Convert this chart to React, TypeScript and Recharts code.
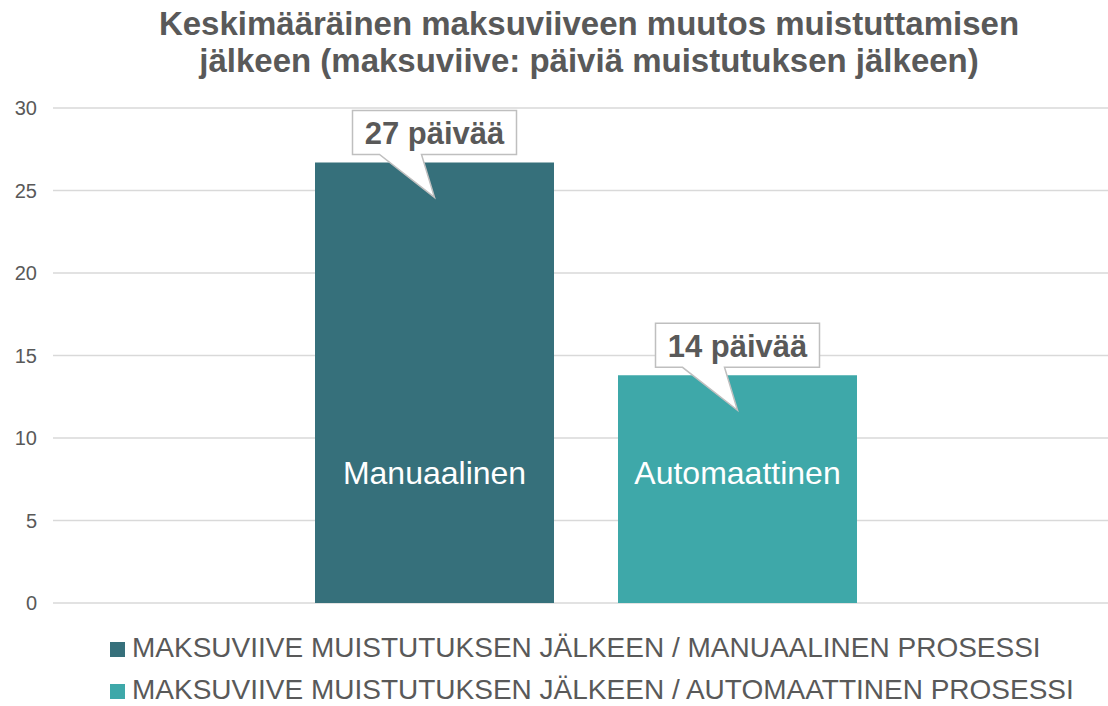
import React from "react";
import { BarChart, Bar, XAxis, YAxis, CartesianGrid, LabelList, Legend } from "recharts";

const titleLines = [
  "Keskimääräinen maksuviiveen muutos muistuttamisen",
  "jälkeen (maksuviive: päiviä muistutuksen jälkeen)",
];
const seriesKeys = ["manual", "auto"];
const barNames = ["Manuaalinen", "Automaattinen"];
const barValues = [26.7, 13.8];
const calloutTexts = ["27 päivää", "14 päivää"];
const legendLabels = [
  "MAKSUVIIVE MUISTUTUKSEN JÄLKEEN / MANUAALINEN PROSESSI",
  "MAKSUVIIVE MUISTUTUKSEN JÄLKEEN / AUTOMAATTINEN PROSESSI",
];
const barColors = ["#36707b", "#3ea8a9"];
const yTicks = [0, 5, 10, 15, 20, 25, 30];

const chartData = [
  seriesKeys.reduce((row: any, key, i) => {
    row[key] = barValues[i];
    return row;
  }, { category: "" }),
];

const FONT = "'Liberation Sans', Arial, sans-serif";
const GRAY = "#595959";

// callout above the bar + series name inside it
function makeLabel(i: number) {
  return (props: any) => {
    const x = Number(props.x);
    const y = Number(props.y);
    const w = Number(props.width);
    const h = Number(props.height);
    const cx = x + w / 2;
    const bottom = y + h;
    const top = y - 52;
    const base = y - 8;
    const d = `M${cx - 82},${top} H${cx + 82} V${base} H${cx - 13} L${cx},${y + 35} L${cx - 55},${base} H${cx - 82} Z`;
    return (
      <g>
        <text x={cx} y={bottom - 119} textAnchor="middle" fill="#ffffff" fontSize={32} fontFamily={FONT}>
          {barNames[i]}
        </text>
        <path d={d} fill="#ffffff" stroke="#bfbfbf" strokeWidth={1.5} />
        <text x={cx} y={y - 18} textAnchor="middle" fill={GRAY} fontSize={31} fontWeight="bold" fontFamily={FONT}>
          {calloutTexts[i]}
        </text>
      </g>
    );
  };
}

function LegendRows() {
  return (
    <div style={{ fontFamily: FONT, fontSize: 28, lineHeight: "30px", color: GRAY }}>
      {legendLabels.map((label, i) => (
        <div
          key={label}
          style={{ whiteSpace: "nowrap", display: "flex", alignItems: "baseline", height: 42 }}
        >
          <span style={{ display: "inline-block", width: 15, height: 15, background: barColors[i], marginRight: 7 }} />
          <span>{label}</span>
        </div>
      ))}
    </div>
  );
}

export default function App() {
  return (
    <div style={{ position: "absolute", left: 0, top: 0, width: 1108, height: 706, overflow: "hidden", background: "#fff" }}>
      <div
        style={{
          position: "absolute",
          left: 89,
          top: 5,
          width: 1000,
          textAlign: "center",
          fontFamily: FONT,
          fontWeight: "bold",
          fontSize: 33,
          lineHeight: "37px",
          color: GRAY,
          whiteSpace: "nowrap",
        }}
      >
        {titleLines.map((t) => (
          <div key={t}>{t}</div>
        ))}
      </div>
      <BarChart
        width={1119}
        height={706}
        data={chartData}
        margin={{ top: 108, right: 0, bottom: 103, left: 0 }}
        barSize={239}
        barGap={64}
      >
        <CartesianGrid vertical={false} stroke="#d9d9d9" strokeWidth={1.5} />
        <XAxis dataKey="category" hide />
        <YAxis
          domain={[0, 30]}
          ticks={yTicks}
          width={53}
          axisLine={false}
          tickLine={false}
          tickSize={0}
          tickMargin={16}
          tick={{ fill: GRAY, fontSize: 20, fontFamily: FONT }}
        />
        <Legend
          layout="horizontal"
          verticalAlign="middle"
          align="center"
          wrapperStyle={{ left: 110, top: 633 }}
          content={() => <LegendRows />}
        />
        {seriesKeys.map((key, i) => (
          <Bar key={key} dataKey={key} name={legendLabels[i]} fill={barColors[i]} isAnimationActive={false}>
            <LabelList dataKey={key} content={makeLabel(i)} />
          </Bar>
        ))}
      </BarChart>
    </div>
  );
}
